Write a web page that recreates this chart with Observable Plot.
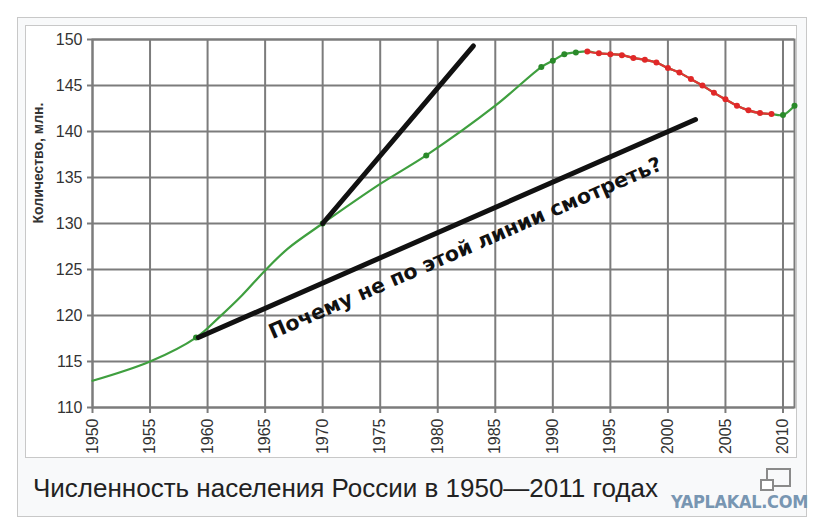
<!DOCTYPE html>
<html>
<head>
<meta charset="utf-8">
<script src="https://cdn.jsdelivr.net/npm/d3@7"></script>
<script src="https://cdn.jsdelivr.net/npm/@observablehq/plot@0.6"></script>
<style>
  html, body { margin: 0; padding: 0; background: #fff; }
  body { width: 833px; height: 532px; overflow: hidden; position: relative; font-family: "Liberation Sans", Arial, sans-serif; }
  #outer { position: absolute; left: 17px; top: 17px; width: 788px; height: 498px; border: 1px solid #c8c8c8; background: #f8f9fa; }
  #inner { position: absolute; left: 25px; top: 25px; width: 770px; height: 431px; border: 1px solid #c8c8c8; background: #fff; }
  #chart { position: absolute; left: 0; top: 0; }
  #caption { position: absolute; left: 33px; top: 475px; font-size: 26px; line-height: 1; color: #222; white-space: nowrap; }
  #wm { position: absolute; left: 671px; top: 493px; font-family: "DejaVu Sans"; font-weight: bold; font-stretch: condensed; font-size: 18px; line-height: 1; color: #7896b2; white-space: nowrap; letter-spacing: -0.3px; }
  #icon { position: absolute; left: 758px; top: 466px; }
</style>
</head>
<body>
<div id="outer"></div>
<div id="inner"></div>
<div id="chart"></div>
<div id="caption"></div>
<svg id="icon" width="36" height="28">
  <rect x="9" y="3" width="23" height="17" fill="none" stroke="#8a8a8a" stroke-width="2"/>
  <rect x="3" y="14" width="12" height="10" fill="#fff" stroke="#8a8a8a" stroke-width="2"/>
</svg>
<div id="wm"></div>
<script>
// ---- data ----
const years = [1950, 1955, 1959, 1961, 1963, 1965, 1967, 1970, 1975, 1979, 1985, 1989,
  1990, 1991, 1992, 1993, 1994, 1995, 1996, 1997, 1998, 1999, 2000,
  2001, 2002, 2003, 2004, 2005, 2006, 2007, 2008, 2009, 2010, 2011];
const population = [112.9, 115.0, 117.6, 119.8, 122.2, 124.9, 127.3, 130.0, 134.3, 137.4, 142.8, 147.0,
  147.7, 148.4, 148.6, 148.7, 148.5, 148.4, 148.3, 148.0, 147.8, 147.5, 146.9,
  146.4, 145.7, 145.0, 144.2, 143.5, 142.8, 142.3, 142.0, 141.9, 141.8, 142.8];
const markerYears = [1959, 1970, 1979, 1989, 1990, 1991, 1992, 1993, 1994, 1995, 1996, 1997,
  1998, 1999, 2000, 2001, 2002, 2003, 2004, 2005, 2006, 2007, 2008, 2009, 2010, 2011];
const declineStart = 1993;
const declineEnd = 2009;

// hand-drawn annotation lines (start/end in data units)
const steepLineYears = [1970, 1983.1];
const steepLineValues = [130.0, 149.3];
const flatLineYears = [1959.2, 2002.4];
const flatLineValues = [117.6, 141.3];
const noteText = "Почему не по этой линии смотреть?";
const noteYear = 1982.4;
const noteValue = 127.3;

const xTicks = [1950, 1955, 1960, 1965, 1970, 1975, 1980, 1985, 1990, 1995, 2000, 2005, 2010];
const yTicks = [110, 115, 120, 125, 130, 135, 140, 145, 150];
const yLabel = "Количество, млн.";
const captionText = "Численность населения России в 1950—2011 годах";
const watermarkText = "YAPLAKAL.COM";

// ---- build tables ----
const series = years.map((y, i) => ({year: y, pop: population[i]}));
const decline = series.filter(d => d.year >= declineStart && d.year <= declineEnd);
const markers = series.filter(d => markerYears.includes(d.year));
const steepLine = steepLineYears.map((y, i) => ({year: y, pop: steepLineValues[i]}));
const flatLine = flatLineYears.map((y, i) => ({year: y, pop: flatLineValues[i]}));

const gridColor = "#7c7c7c";
const green = "#3f9f3f";
const red = "#e43434";

const chart = Plot.plot({
  width: 833,
  height: 460,
  marginLeft: 92,
  marginRight: 39,
  marginTop: 39,
  marginBottom: 53,
  style: {background: "transparent", fontFamily: "'Liberation Sans', Arial, sans-serif", color: "#333", overflow: "visible"},
  x: {domain: [1950, 2011]},
  y: {domain: [110, 150]},
  marks: [
    Plot.gridX(xTicks, {stroke: gridColor, strokeWidth: 2, strokeOpacity: 1}),
    Plot.gridY(yTicks, {stroke: gridColor, strokeWidth: 2, strokeOpacity: 1}),
    Plot.frame({stroke: gridColor, strokeWidth: 2}),
    Plot.axisX(xTicks, {tickSize: 6, tickPadding: 5, tickRotate: -90, tickFormat: d => String(d),
      fontSize: 16, stroke: gridColor, strokeWidth: 2, fill: "#333", label: null}),
    Plot.axisY(yTicks, {tickSize: 5, tickPadding: 5, tickFormat: d => String(d),
      fontSize: 16, stroke: gridColor, strokeWidth: 2, fill: "#333", label: null}),
    Plot.text([yLabel], {frameAnchor: "left", dx: -54, rotate: -90, text: d => d,
      fontSize: 14, fontWeight: "bold", fill: "#333"}),
    Plot.line(series, {x: "year", y: "pop", stroke: green, strokeWidth: 2.2, curve: "catmull-rom"}),
    Plot.line(decline, {x: "year", y: "pop", stroke: red, strokeWidth: 2.2, curve: "catmull-rom"}),
    Plot.dot(markers, {x: "year", y: "pop", r: 3,
      fill: d => (d.year >= declineStart && d.year <= declineEnd) ? "#e02828" : "#2a8a2a"}),
    Plot.line(steepLine, {x: "year", y: "pop", stroke: "#111", strokeWidth: 5, strokeLinecap: "round"}),
    Plot.line(flatLine, {x: "year", y: "pop", stroke: "#111", strokeWidth: 5, strokeLinecap: "round"}),
    Plot.text([noteText], {x: () => noteYear, y: () => noteValue, text: d => d, rotate: -23.5,
      fontSize: 20.5, fontWeight: "bold", fontFamily: "'DejaVu Sans', Verdana, sans-serif",
      fill: "#111", textAnchor: "middle", lineAnchor: "middle"})
  ]
});
document.getElementById("chart").appendChild(chart);
document.getElementById("caption").textContent = captionText;
document.getElementById("wm").textContent = watermarkText;
</script>
</body>
</html>
